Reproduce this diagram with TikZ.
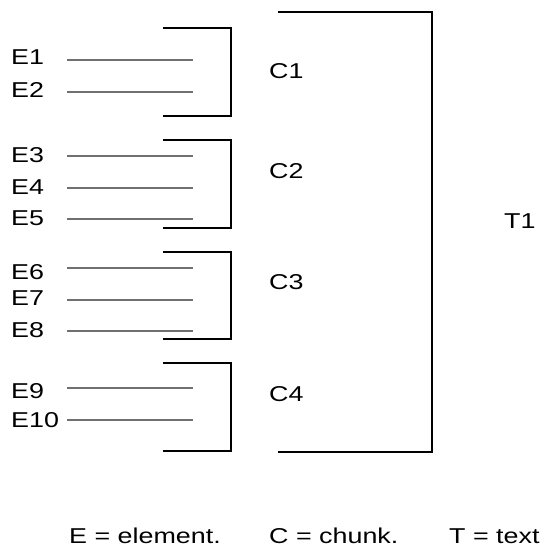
\documentclass[tikz,border=0pt]{standalone}
\usepackage{fontspec}
\setmainfont[FakeStretch=1.25]{Liberation Sans}
\definecolor{lineGray}{RGB}{112,112,112}
\begin{document}
\begin{tikzpicture}[x=1pt,y=-1pt,
  lbl/.style={anchor=base west,inner sep=0pt,font=\fontsize{21.5}{23}\selectfont},
  eline/.style={draw=lineGray,line width=1.4pt},
  brk/.style={draw=black,line width=1.3pt}]
\useasboundingbox (0,0) rectangle (543,549);
% element labels and lines
\foreach \n/\b/\l in {1/64.5/60,2/97/92,3/162/156,4/194/188,5/225.5/219,6/279/268,7/305.5/300,8/337/331,9/398.5/388,10/427/420}{
  \node[lbl] (e\n) at (11,\b) {E\n};
  \coordinate (ea\n) at (67,\l);
  \coordinate (eb\n) at (193,\l);
  \draw[eline] (ea\n) -- (eb\n);
}
% chunk brackets
\foreach \n/\t/\bt/\b in {1/28/116/78,2/140/228/178,3/252/339/289,4/363/451/401}{
  \coordinate (ct\n) at (163,\t);
  \coordinate (cb\n) at (163,\bt);
  \draw[brk] (ct\n) -| (231,\bt) -- (cb\n);
  \node[lbl] (c\n) at (269,\b) {C\n};
}
% text bracket
\coordinate (tt) at (278,12);
\coordinate (tb) at (278,452);
\draw[brk] (tt) -| (432,452) -- (tb);
\node[lbl] (t1) at (504,228) {T1};
% legend
\node[lbl] (le) at (69,543) {E = element.};
\node[lbl] (lc) at (269,543) {C = chunk.};
\node[lbl] (lt) at (449,543) {T = text};
\end{tikzpicture}
\end{document}
